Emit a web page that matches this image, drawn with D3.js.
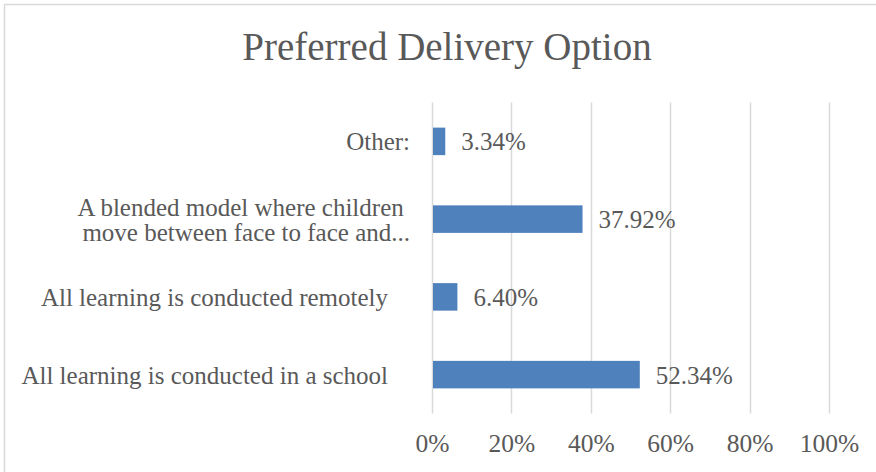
<!DOCTYPE html>
<html>
<head>
<meta charset="utf-8">
<script src="https://cdn.jsdelivr.net/npm/d3@7"></script>
<style>
  body{margin:0;background:#fff;}
  text{font-family:"Liberation Serif","Times New Roman",serif;fill:#595959;}
</style>
</head>
<body>
<svg id="canvas"></svg>
<script>
// data (top to bottom)
let categories=["Other:","A blended model where children move between face to face and...","All learning is conducted remotely","All learning is conducted in a school"];
let labelLines=[["Other:"],["A blended model where children ","move between face to face and..."],["All learning is conducted remotely"],["All learning is conducted in a school"]];
let values=[0.0334,0.3792,0.0640,0.5234];
let tickValues=[0,0.2,0.4,0.6,0.8,1.0];

let width=876;
let height=472;

// excel right-aligns the long single-line labels a bit further left
let labelRight=[410,410,388,388];

let canvas=d3.select("#canvas")
canvas.attr('width',width)
canvas.attr('height',height)

// chart frame
canvas.append('rect')
    .attr('x',4.5)
    .attr('y',4.5)
    .attr('width',width+20)
    .attr('height',height+20)
    .attr('fill','#fff')
    .attr('stroke','#d9d9d9')
    .attr('stroke-width',1.5);

canvas.append('text')
    .attr('x',447)
    .attr('y',60)
    .attr('text-anchor','middle')
    .style('font-size','39px')
    .text('Preferred Delivery Option');

let xscale=d3.scaleLinear()
    .domain([0,1])
    .range([432,829]);

let yscale=d3.scaleBand()
    .domain(categories)
    .range([102.5,413.5])
    .paddingInner(0.646)
    .paddingOuter(0.323);

// axis labels
let xAxis=d3.axisBottom(xscale)
    .tickValues(tickValues)
    .tickFormat(d3.format('.0%'))
    .tickSize(0);
let axisG=canvas.append('g')
    .attr('id','x-axis')
    .attr('transform','translate(0,413.5)')
    .call(xAxis);
axisG.select('.domain').remove();
axisG.selectAll('.tick text')
    .attr('y',38.5)
    .attr('dy',null)
    .attr('fill',null)
    .style('font-size','25.5px')
    .style('font-family','"Liberation Serif",serif');

// gridlines
canvas.append('g')
    .selectAll('line')
    .data(tickValues)
    .enter()
    .append('line')
    .attr('x1',(d)=>Math.round(xscale(d))+0.5)
    .attr('x2',(d)=>Math.round(xscale(d))+0.5)
    .attr('y1',102.5)
    .attr('y2',413.5)
    .attr('stroke','#d9d9d9')
    .attr('stroke-width',1.5);

// bars
canvas.append('g')
    .selectAll('rect')
    .data(values)
    .enter()
    .append('rect')
    .attr('x',xscale(0)+1)
    .attr('y',(d,i)=>yscale(categories[i]))
    .attr('width',(d)=>xscale(d)-xscale(0)-1)
    .attr('height',yscale.bandwidth())
    .attr('fill','#4f81bd');

// value labels
canvas.append('g')
    .selectAll('text')
    .data(values)
    .enter()
    .append('text')
    .attr('x',(d)=>xscale(d)+16)
    .attr('y',(d,i)=>yscale(categories[i])+yscale.bandwidth()/2+9)
    .style('font-size','25px')
    .text((d)=>d3.format('.2%')(d));

// category labels
let catG=canvas.append('g');
labelLines.forEach((lines,i)=>{
    let cy=yscale(categories[i])+yscale.bandwidth()/2;
    let t=catG.append('text')
        .attr('text-anchor','end')
        .style('font-size','25px')
        .style('white-space','pre');
    lines.forEach((ln,j)=>{
        t.append('tspan')
            .attr('x',labelRight[i])
            .attr('y',cy+9+(j-(lines.length-1)/2)*25)
            .text(ln);
    });
});
</script>
</body>
</html>
